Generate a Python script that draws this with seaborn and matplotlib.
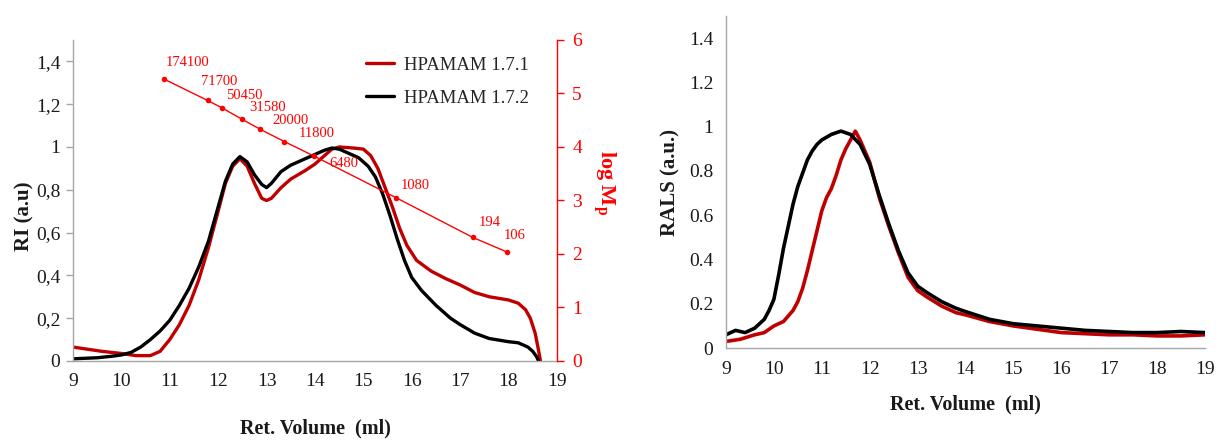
import matplotlib
matplotlib.use("Agg")
import matplotlib.pyplot as plt
import matplotlib.ticker as mticker
import seaborn as sns

# RI chromatogram, HPAMAM 1.7.1 (red)
ri_red_x = [9.0, 9.3, 9.6, 10.0, 10.3, 10.6, 10.8, 11.0, 11.2, 11.4, 11.6, 11.8, 12.0, 12.15,
            12.3, 12.45, 12.6, 12.75, 12.9, 13.0, 13.1, 13.3, 13.5, 13.8, 14.0, 14.2, 14.35,
            14.5, 14.8, 15.0, 15.15, 15.3, 15.45, 15.6, 15.75, 15.9, 16.1, 16.4, 16.7, 17.0,
            17.3, 17.6, 18.0, 18.2, 18.35, 18.45, 18.55, 18.62, 18.66]
ri_red_y = [0.065, 0.055, 0.045, 0.035, 0.025, 0.025, 0.045, 0.10, 0.17, 0.26, 0.38, 0.53, 0.70, 0.83,
            0.91, 0.945, 0.91, 0.83, 0.76, 0.75, 0.76, 0.81, 0.85, 0.89, 0.92, 0.96, 0.99,
            1.0, 0.995, 0.99, 0.96, 0.90, 0.81, 0.72, 0.62, 0.54, 0.47, 0.42, 0.385, 0.355,
            0.32, 0.30, 0.285, 0.27, 0.24, 0.20, 0.13, 0.05, 0.0]

# RI chromatogram, HPAMAM 1.7.2 (black)
ri_blk_x = [9.0, 9.5, 9.8, 10.0, 10.2, 10.4, 10.6, 10.8, 11.0, 11.2, 11.4, 11.6, 11.8, 12.0,
            12.15, 12.3, 12.45, 12.6, 12.75, 12.9, 13.0, 13.1, 13.3, 13.5, 13.8, 14.0, 14.2,
            14.35, 14.5, 14.7, 14.9, 15.1, 15.25, 15.4, 15.55, 15.7, 15.85, 16.0, 16.2, 16.5,
            16.8, 17.0, 17.3, 17.6, 18.0, 18.2, 18.4, 18.5, 18.58, 18.62]
ri_blk_y = [0.010, 0.015, 0.022, 0.028, 0.040, 0.065, 0.10, 0.14, 0.19, 0.26, 0.34, 0.44, 0.56, 0.72,
            0.84, 0.92, 0.955, 0.93, 0.87, 0.825, 0.81, 0.83, 0.885, 0.915, 0.945, 0.965, 0.985,
            0.995, 0.99, 0.97, 0.95, 0.91, 0.86, 0.78, 0.68, 0.57, 0.47, 0.39, 0.33, 0.26,
            0.20, 0.17, 0.13, 0.105, 0.09, 0.085, 0.065, 0.045, 0.02, 0.0]

# calibration standards (right axis, log Mp)
cal_x = [10.88, 11.78, 12.08, 12.49, 12.87, 13.37, 13.98, 15.68, 17.26, 17.96]
cal_logm = [5.27, 4.87, 4.73, 4.52, 4.33, 4.10, 3.83, 3.05, 2.31, 2.04]
cal_labels = ["174100", "71700", "50450", "31580", "20000", "11800", "6480", "1080", "194", "106"]
cal_offsets = [(1, 7), (-5, 9), (3, 4), (5, 4), (9, 2), (10, 1), (11, -10), (3, 4), (4, 6), (-2, 7)]

# RALS signal
rals_red_x = [9.0, 9.3, 9.6, 9.8, 10.0, 10.2, 10.4, 10.5, 10.6, 10.7, 10.8, 10.9, 11.0, 11.1,
              11.2, 11.3, 11.4, 11.5, 11.6, 11.7, 11.8, 12.0, 12.2, 12.4, 12.6, 12.8, 13.0,
              13.2, 13.5, 13.8, 14.0, 14.5, 15.0, 15.5, 16.0, 16.5, 17.0, 17.5, 18.0, 18.5, 19.0]
rals_red_y = [0.03, 0.04, 0.06, 0.07, 0.10, 0.12, 0.17, 0.21, 0.27, 0.35, 0.44, 0.53, 0.62, 0.68,
              0.72, 0.78, 0.85, 0.90, 0.94, 0.98, 0.94, 0.84, 0.68, 0.55, 0.43, 0.32, 0.26,
              0.23, 0.19, 0.16, 0.15, 0.12, 0.10, 0.085, 0.07, 0.065, 0.06, 0.06, 0.055, 0.055, 0.06]
rals_blk_x = [9.0, 9.2, 9.4, 9.6, 9.8, 9.9, 10.0, 10.1, 10.2, 10.3, 10.4, 10.5, 10.6, 10.7,
              10.8, 10.9, 11.0, 11.2, 11.4, 11.6, 11.8, 12.0, 12.2, 12.4, 12.6, 12.8, 13.0,
              13.2, 13.5, 13.8, 14.0, 14.5, 15.0, 15.5, 16.0, 16.5, 17.0, 17.5, 18.0, 18.5, 19.0]
rals_blk_y = [0.06, 0.08, 0.07, 0.09, 0.13, 0.17, 0.22, 0.33, 0.45, 0.55, 0.65, 0.73, 0.79, 0.85,
              0.89, 0.92, 0.94, 0.965, 0.98, 0.965, 0.92, 0.83, 0.69, 0.56, 0.44, 0.34, 0.28,
              0.25, 0.21, 0.18, 0.165, 0.13, 0.11, 0.10, 0.09, 0.08, 0.075, 0.07, 0.07, 0.075, 0.07]

x_ticks = list(range(9, 20))
y_ticks = [0, 0.2, 0.4, 0.6, 0.8, 1.0, 1.2, 1.4]
logm_ticks = [0, 1, 2, 3, 4, 5, 6]

DARK_RED = "#C00000"
RED = "#FF0000"
GREY = "#A6A6A6"
TXT = "#1A1A1A"

sns.set_style("white")
plt.rcParams["font.family"] = ["Liberation Serif", "DejaVu Serif"]
plt.rcParams["mathtext.fontset"] = "custom"
plt.rcParams["mathtext.rm"] = "Liberation Serif:bold"
plt.rcParams["mathtext.it"] = "Liberation Serif:bold"

fig = plt.figure(figsize=(12.16, 4.44), dpi=100)
ax = fig.add_axes([0.060, 0.187, 0.398, 0.723])
ax_r = fig.add_axes([0.597, 0.216, 0.394, 0.748])


def style_axis(a, comma):
    a.set_xlim(9, 19)
    a.set_ylim(0, 1.5)
    a.set_xticks(x_ticks)
    a.set_yticks(y_ticks)
    if comma:
        fmt = mticker.FuncFormatter(lambda v, p: ("%g" % round(v, 1)).replace(".", ","))
    else:
        fmt = mticker.FuncFormatter(lambda v, p: "%g" % round(v, 1))
    a.yaxis.set_major_formatter(fmt)
    for s in ["top", "right"]:
        a.spines[s].set_visible(False)
    for s in ["left", "bottom"]:
        a.spines[s].set_color(GREY)
        a.spines[s].set_linewidth(1.0)
    a.tick_params(axis="both", direction="out", length=5, width=1, color=GREY,
                  labelsize=14, labelcolor=TXT, pad=4)


# left panel: RI + calibration
style_axis(ax, True)
sns.lineplot(x=ri_red_x, y=ri_red_y, ax=ax, color=DARK_RED, linewidth=2.4,
             label="HPAMAM 1.7.1", sort=False, estimator=None)
sns.lineplot(x=ri_blk_x, y=ri_blk_y, ax=ax, color="black", linewidth=2.4,
             label="HPAMAM 1.7.2", sort=False, estimator=None)
ax.set_xlabel("Ret. Volume  (ml)", fontsize=14.5, fontweight="bold", color=TXT, labelpad=20)
ax.set_ylabel("RI (a.u)", fontsize=15, fontweight="bold", color=TXT)
ax.yaxis.set_label_coords(-0.079, 0.45)
ax.legend(loc="upper left", bbox_to_anchor=(0.57, 1.0), frameon=False, fontsize=13.5,
          handlelength=1.5, handletextpad=0.55, labelspacing=0.85)

ax2 = ax.twinx()
ax2.set_ylim(0, 6)
ax2.set_yticks(logm_ticks)
sns.lineplot(x=cal_x, y=cal_logm, ax=ax2, color=RED, linewidth=1.0, marker="o",
             markersize=4, markeredgewidth=0, sort=False, estimator=None)
for xv, yv, lab, off in zip(cal_x, cal_logm, cal_labels, cal_offsets):
    ax2.annotate(lab, (xv, yv), xytext=off, textcoords="offset points",
                 ha="left", va="bottom", fontsize=10.5, color=RED)
for s in ["top", "left", "bottom"]:
    ax2.spines[s].set_visible(False)
ax2.spines["right"].set_color(RED)
ax2.spines["right"].set_linewidth(1.0)
ax2.tick_params(axis="y", direction="out", length=5, width=1, color=RED,
                labelsize=14, labelcolor=RED, pad=6)
ax2.set_ylabel(r"log M$_{p}$", fontsize=16, fontweight="bold", color=RED, rotation=270)
ax2.yaxis.set_label_coords(1.125, 0.555)

# right panel: RALS
style_axis(ax_r, False)
sns.lineplot(x=rals_red_x, y=rals_red_y, ax=ax_r, color=DARK_RED, linewidth=2.6,
             sort=False, estimator=None)
sns.lineplot(x=rals_blk_x, y=rals_blk_y, ax=ax_r, color="black", linewidth=2.6,
             sort=False, estimator=None)
ax_r.set_xlabel("Ret. Volume  (ml)", fontsize=14.5, fontweight="bold", color=TXT, labelpad=12)
ax_r.set_ylabel("RALS (a.u.)", fontsize=15, fontweight="bold", color=TXT)
ax_r.yaxis.set_label_coords(-0.095, 0.5)

fig.savefig("out.png", dpi=100)
